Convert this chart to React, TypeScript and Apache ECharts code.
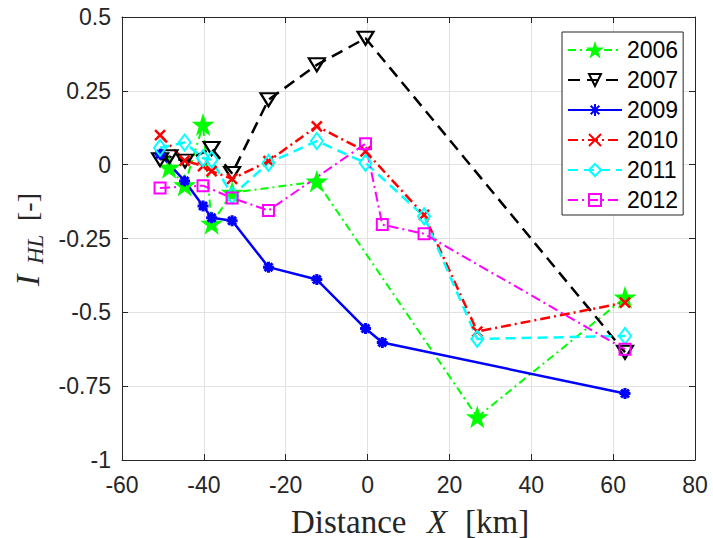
import React, { useEffect, useRef } from "react";
import * as echarts from "echarts";

// ---- data ----
const x2006 = [-48.5, -44.7, -40.2, -38.1, -33.1, -12.4, 26.8, 62.9];
const y2006 = [-0.01, -0.07, 0.135, -0.2, -0.095, -0.057, -0.855, -0.45];

const x2007 = [-50.7, -48.4, -44.6, -38.1, -33.1, -24.2, -12.4, -0.5, 62.9];
const y2007 = [0.017, 0.027, 0.012, 0.055, -0.03, 0.22, 0.338, 0.428, -0.635];

const x2009 = [-50.7, -44.7, -40.2, -38.1, -33.1, -24.2, -12.4, -0.5, 3.6, 62.9];
const y2009 = [0.035, -0.055, -0.14, -0.18, -0.19, -0.347, -0.389, -0.555, -0.602, -0.775];

const x2010 = [-50.7, -44.7, -40.2, -38.1, -33.1, -24.2, -12.4, -0.5, 13.8, 26.8, 62.9];
const y2010 = [0.1, 0.014, -0.005, -0.022, -0.048, 0.012, 0.13, 0.045, -0.17, -0.565, -0.467];

const x2011 = [-50.7, -44.7, -40.2, -38.1, -33.1, -24.2, -12.4, -0.5, 13.8, 26.8, 62.9];
const y2011 = [0.057, 0.075, 0.022, 0.017, -0.105, 0.006, 0.08, 0.006, -0.175, -0.59, -0.58];

const x2012 = [-50.7, -40.2, -33.1, -24.2, -0.5, 3.6, 13.8, 62.9];
const y2012 = [-0.079, -0.071, -0.113, -0.155, 0.071, -0.203, -0.234, -0.625];

const xTicks = { min: -60, max: 80, interval: 20 };
const yTicks = { min: -1, max: 0.5, interval: 0.25 };

// ---- marker shapes ----
function starPath(): string {
  let d = "";
  for (let k = 0; k < 10; k++) {
    const r = k % 2 === 0 ? 10 : 3.9;
    const a = ((-90 + 36 * k) * Math.PI) / 180;
    d += (k === 0 ? "M" : "L") + (r * Math.cos(a)).toFixed(3) + "," + (r * Math.sin(a)).toFixed(3);
  }
  return "path://" + d + "Z";
}
const STAR = starPath();
const TRI_DOWN = "path://M0,0L10,0L5,8.66Z";
const ASTER = "path://M0,-5L0,5M-5,0L5,0M-3.6,-3.6L3.6,3.6M-3.6,3.6L3.6,-3.6";
const CROSS = "path://M-5,-5L5,5M-5,5L5,-5";

const zip = (xs: number[], ys: number[]) => xs.map((x, i) => [x, ys[i]]);

export default function App() {
  const ref = useRef<HTMLDivElement>(null);
  useEffect(() => {
    if (!ref.current) return;
    const chart = echarts.init(ref.current, null, { renderer: "svg" });
    const axisColor = "#262626";
    const gridColor = "#e2e2e2";
    const tickFont = { fontFamily: "Liberation Sans", fontSize: 23, color: axisColor };
    const serif = "Liberation Serif";

    const mk = (
      name: string,
      xs: number[],
      ys: number[],
      color: string,
      lineType: any,
      width: number,
      symbol: string,
      symbolSize: any,
      filled: boolean,
      borderWidth = 2
    ) => ({
      name,
      type: "line",
      data: zip(xs, ys),
      symbol,
      symbolSize,
      symbolKeepAspect: false,
      lineStyle: { color, width, type: lineType },
      itemStyle: {
        color: filled ? color : "rgba(0,0,0,0)",
        borderColor: color,
        borderWidth,
      },
      emphasis: { disabled: true },
    });

    chart.setOption({
      animation: false,
      backgroundColor: "#fff",
      grid: { left: 122, right: 18, top: 17, bottom: 78, containLabel: false },
      xAxis: [
        {
          type: "value",
          ...xTicks,
          position: "bottom",
          axisLine: { show: true, onZero: false, lineStyle: { color: axisColor, width: 1 } },
          axisTick: { show: true, inside: true, length: 6, lineStyle: { color: axisColor } },
          axisLabel: { ...tickFont, margin: 13 },
          splitLine: { show: true, lineStyle: { color: gridColor, width: 1 } },
        },
        {
          type: "value",
          ...xTicks,
          position: "top",
          axisLine: { show: true, onZero: false, lineStyle: { color: axisColor, width: 1 } },
          axisTick: { show: true, inside: true, length: 6, lineStyle: { color: axisColor } },
          axisLabel: { show: false },
          splitLine: { show: false },
        },
      ],
      yAxis: [
        {
          type: "value",
          ...yTicks,
          position: "left",
          axisLine: { show: true, onZero: false, lineStyle: { color: axisColor, width: 1 } },
          axisTick: { show: true, inside: true, length: 6, lineStyle: { color: axisColor } },
          axisLabel: { ...tickFont, margin: 11 },
          splitLine: { show: true, lineStyle: { color: gridColor, width: 1 } },
        },
        {
          type: "value",
          ...yTicks,
          position: "right",
          axisLine: { show: true, onZero: false, lineStyle: { color: axisColor, width: 1 } },
          axisTick: { show: true, inside: true, length: 6, lineStyle: { color: axisColor } },
          axisLabel: { show: false },
          splitLine: { show: false },
        },
      ],
      legend: {
        orient: "vertical",
        left: 562,
        top: 32,
        itemWidth: 54,
        itemHeight: 15,
        itemGap: 6,
        padding: [6, 5, 3, 5],
        borderColor: axisColor,
        borderWidth: 1,
        borderRadius: 0,
        backgroundColor: "#fff",
        textStyle: { fontFamily: "Liberation Sans", fontSize: 23, color: "#000", lineHeight: 24 },
        data: ["2006", "2007", "2009", "2010", "2011", "2012"],
      },
      graphic: [
        { type: "text", left: 291, top: 505, style: { text: "Distance", font: `33px "${serif}"`, fill: axisColor } },
        { type: "text", left: 427, top: 505, style: { text: "X", font: `italic 33px "${serif}"`, fill: axisColor } },
        { type: "text", left: 465, top: 505, style: { text: "[km]", font: `33px "${serif}"`, fill: axisColor } },
        {
          type: "text",
          x: 27,
          y: 286,
          rotation: Math.PI / 2,
          style: { text: "I", font: `italic 34px "${serif}"`, fill: axisColor, align: "left", verticalAlign: "middle" },
        },
        {
          type: "text",
          x: 35,
          y: 264,
          rotation: Math.PI / 2,
          style: { text: "HL", font: `italic 23px "${serif}"`, fill: axisColor, align: "left", verticalAlign: "middle" },
        },
        {
          type: "text",
          x: 27,
          y: 221,
          rotation: Math.PI / 2,
          style: { text: "[-]", font: `28px "${serif}"`, fill: axisColor, align: "left", verticalAlign: "middle" },
        },
      ],
      series: [
        mk("2006", x2006, y2006, "#00ff00", [8, 4, 2, 4], 2, STAR, 17, true),
        mk("2007", x2007, y2007, "#000000", [12, 7], 2.5, TRI_DOWN, [16, 13], false, 2.2),
        mk("2009", x2009, y2009, "#0000ff", "solid", 2.5, ASTER, 11, true, 3),
        mk("2010", x2010, y2010, "#ff0000", [10, 4, 2, 4], 2.5, CROSS, 10, true, 2.5),
        mk("2011", x2011, y2011, "#00ffff", [10, 6], 2.5, "diamond", [12, 16], false),
        mk("2012", x2012, y2012, "#ff00ff", [10, 4, 2, 4], 2, "rect", 11, false),
      ],
    });
    return () => chart.dispose();
  }, []);
  return (
    <div
      ref={ref}
      style={{ position: "fixed", left: 0, top: 0, width: 713, height: 538, background: "#fff" }}
    />
  );
}
